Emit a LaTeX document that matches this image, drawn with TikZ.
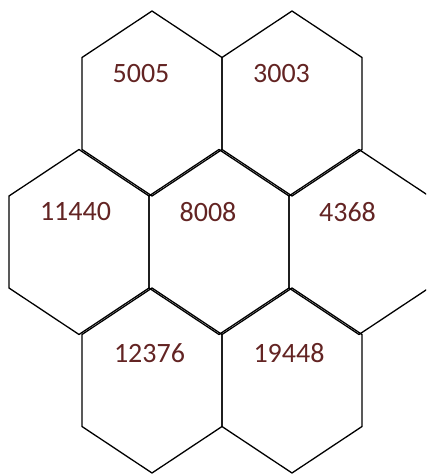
\documentclass[tikz,border=0pt]{standalone}
\usepackage{fontspec}
\setmainfont{Carlito}
\usepackage{tikz}
\usepackage{xcolor}
\definecolor{numred}{RGB}{99,36,35}

\begin{document}
\begin{tikzpicture}[x=1pt, y=-1pt, line width=1.3pt, line join=round,
    cellnum/.style={text=numred, font=\fontsize{28}{30}\selectfont, inner sep=0pt}]
    \useasboundingbox (0,0) rectangle (426,474);
    \clip (0,0) rectangle (426,474);

    % Hexagons (centres)
    \foreach \cx/\cy in {152/103.5, 292/103.5,
                         79/242, 219/242, 359/242,
                         152/380.5, 292/380.5}
        \draw (\cx,\cy-92.5) -- (\cx+70,\cy-46) -- (\cx+70,\cy+46)
              -- (\cx,\cy+92.5) -- (\cx-70,\cy+46) -- (\cx-70,\cy-46) -- cycle;

    % Numbers
    \node[cellnum] (n5005) at (141,74) {5005};
    \node[cellnum] (n3003) at (281.5,74) {3003};
    \node[cellnum] (n11440) at (75.5,212) {11440};
    \node[cellnum] (n8008) at (208,212) {8008};
    \node[cellnum] (n4368) at (347.5,212) {4368};
    \node[cellnum] (n12376) at (149.5,353) {12376};
    \node[cellnum] (n19448) at (289,353) {19448};
\end{tikzpicture}
\end{document}
